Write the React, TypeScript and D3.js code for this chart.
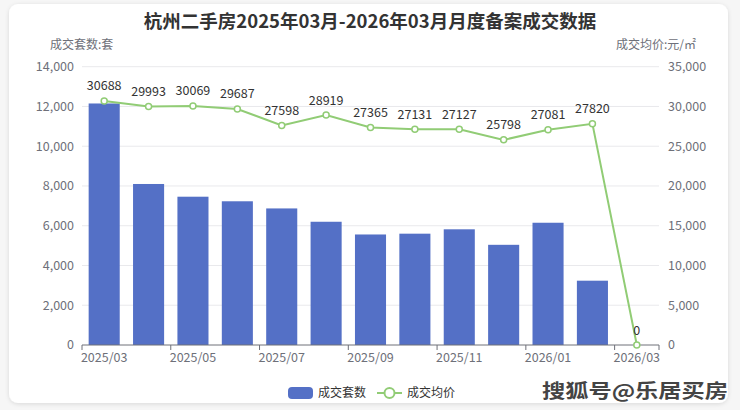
import { scaleBand, scaleLinear, line } from "d3";

const months = [
  "2025/03", "2025/04", "2025/05", "2025/06", "2025/07", "2025/08", "2025/09",
  "2025/10", "2025/11", "2025/12", "2026/01", "2026/02", "2026/03",
];
// 成交套数 (last month has no bar)
const deals: (number | null)[] = [
  12150, 8100, 7460, 7230, 6870, 6200, 5560, 5600, 5820, 5040, 6150, 3235, null,
];
// 成交均价 元/㎡
const prices = [
  30688, 29993, 30069, 29687, 27598, 28919, 27365, 27131, 27127, 25798, 27081, 27820, 0,
];
const leftTicks = [0, 2000, 4000, 6000, 8000, 10000, 12000, 14000];
const rightTicks = [0, 5000, 10000, 15000, 20000, 25000, 30000, 35000];

const W = 740;
const H = 410;
const FONT = "'Noto Sans CJK SC', 'Noto Sans', sans-serif";
const BAR = "#5470c6";
const LINE = "#91cc75";
const AXIS = "#6e7079";

export default function App() {
  const x = scaleBand<string>().domain(months).range([82, 659]).padding(0);
  const yL = scaleLinear().domain([0, 14000]).range([345, 66.7]);
  const yR = scaleLinear().domain([0, 35000]).range([345, 66.7]);
  const bw = x.bandwidth();
  const cx = (m: string) => (x(m) as number) + bw / 2;

  const pricePath = line<number>()
    .x((_, i) => cx(months[i]))
    .y((d) => yR(d))(prices);

  const fmt = (v: number) => v.toLocaleString("en-US");

  return (
    <div style={{ position: "absolute", left: 0, top: 0 }}>
      <svg width={W} height={H} style={{ display: "block", fontFamily: FONT }}>
        <defs>
          <filter id="shadow" x="-5%" y="-5%" width="110%" height="110%">
            <feDropShadow dx="0" dy="1" stdDeviation="2" floodColor="#000" floodOpacity="0.12" />
          </filter>
        </defs>
        <rect width={W} height={H} fill="#f6f6f6" />
        <rect x={9} y={4} width={719} height={399} rx={9} fill="#fff" filter="url(#shadow)" />

        <text x={370} y={28} textAnchor="middle" fontSize={18.5} fontWeight="bold" fill="#333">
          杭州二手房2025年03月-2026年03月月度备案成交数据
        </text>

        <text x={50} y={49} fontSize={12} fill={AXIS}>成交套数:套</text>
        <text x={696} y={49} fontSize={12} fill={AXIS} textAnchor="end">成交均价:元/㎡</text>

        {/* grid */}
        {leftTicks.slice(1).map((t) => (
          <line key={t} x1={82} x2={659} y1={yL(t)} y2={yL(t)} stroke="#e9e9ec" />
        ))}

        {leftTicks.map((t) => (
          <text key={t} x={74} y={yL(t)} dy="0.35em" textAnchor="end" fontSize={12.5} fill={AXIS}>
            {fmt(t)}
          </text>
        ))}
        {rightTicks.map((t) => (
          <text key={t} x={668} y={yR(t)} dy="0.35em" fontSize={12.5} fill={AXIS}>
            {fmt(t)}
          </text>
        ))}

        {/* bars */}
        {deals.map((d, i) =>
          d == null ? null : (
            <rect
              key={months[i]}
              x={cx(months[i]) - bw * 0.35}
              y={yL(d)}
              width={bw * 0.7}
              height={yL(0) - yL(d)}
              fill={BAR}
            />
          )
        )}

        {/* x axis */}
        <line x1={82} x2={659} y1={345} y2={345} stroke={AXIS} />
        {months.map((m, i) =>
          i % 2 === 0 ? (
            <g key={m}>
              <line x1={x(m)} x2={x(m)} y1={345} y2={350} stroke={AXIS} />
              <text x={cx(m)} y={362} textAnchor="middle" fontSize={12.5} fill={AXIS}>
                {m}
              </text>
            </g>
          ) : null
        )}
        <line x1={659} x2={659} y1={345} y2={350} stroke={AXIS} />

        {/* price line */}
        <path d={pricePath ?? ""} fill="none" stroke={LINE} strokeWidth={2} />
        {prices.map((p, i) => (
          <g key={months[i]}>
            <circle cx={cx(months[i])} cy={yR(p)} r={3} fill="#fff" stroke={LINE} strokeWidth={1.5} />
            <text x={cx(months[i])} y={yR(p) - 10.5} textAnchor="middle" fontSize={12.5} fill="#333">
              {p}
            </text>
          </g>
        ))}

        {/* legend */}
        <rect x={288} y={387} width={25} height={12} rx={4} fill={BAR} />
        <text x={318} y={393} dy="0.35em" fontSize={12} fill="#333">成交套数</text>
        <line x1={377} x2={402} y1={393} y2={393} stroke={LINE} strokeWidth={2} />
        <circle cx={389.5} cy={393} r={5} fill="#fff" stroke={LINE} strokeWidth={2} />
        <text x={407} y={393} dy="0.35em" fontSize={12} fill="#333">成交均价</text>

        {/* watermark */}
        <text
          x={542}
          y={398}
          fontSize={19}
          fontWeight="bold"
          fill="#444"
          stroke="#fff"
          strokeWidth={2.5}
          paintOrder="stroke"
          textLength={186}
          lengthAdjust="spacingAndGlyphs"
        >
          搜狐号@乐居买房
        </text>
      </svg>
    </div>
  );
}
